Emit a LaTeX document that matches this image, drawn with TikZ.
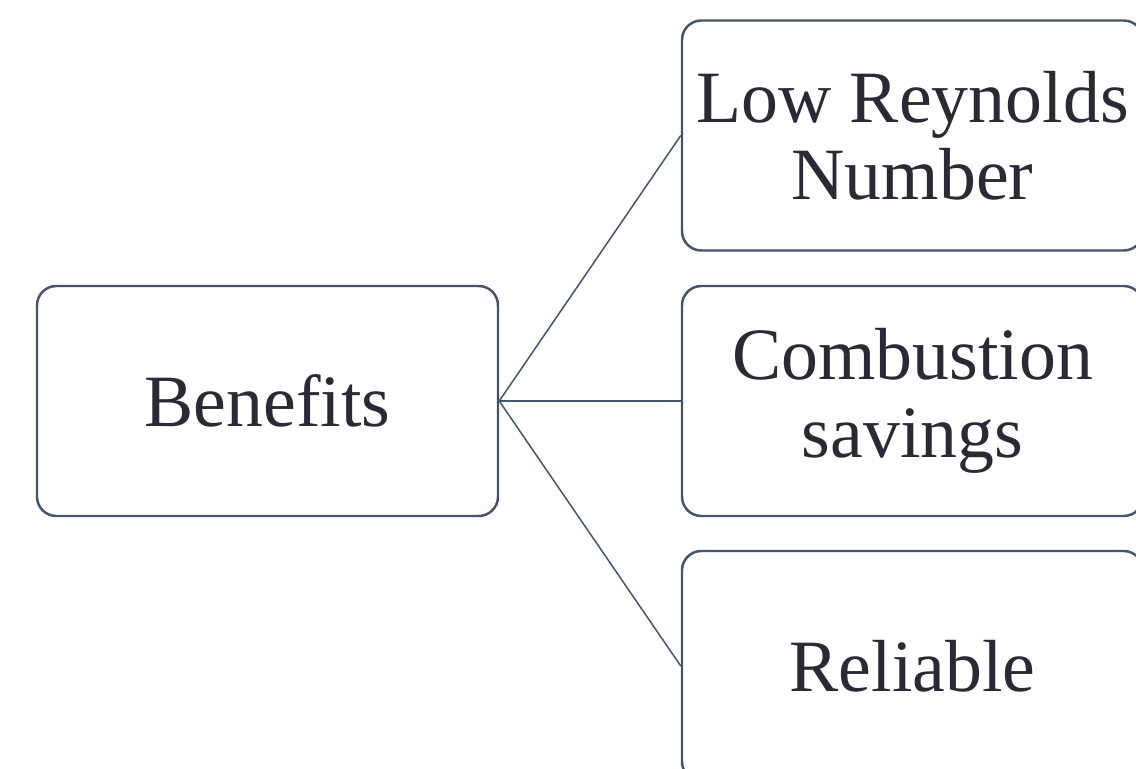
\documentclass[tikz,border=0pt]{standalone}
\usepackage{fontspec}
\setmainfont{Liberation Serif}
\definecolor{edgec}{HTML}{44546A}
\definecolor{textc}{HTML}{2A2A35}
\begin{document}
\begin{tikzpicture}[x=0.02cm,y=-0.02cm,
  boxstyle/.style={draw=edgec, line width=1.4pt, rounded corners=11pt, fill=white,
    minimum width=461*0.02cm, minimum height=230*0.02cm, inner sep=0pt,
    align=center, text=textc, font=\fontsize{42}{44}\selectfont},
  linkstyle/.style={draw=edgec, line width=0.85pt}]
\clip (0,0) rectangle (1136,768);
\fill[white] (0,0) rectangle (1136,768);
\node[boxstyle] (ben) at (267.5,401) {Benefits};
\node[boxstyle] (low) at (912.5,135.5) {Low Reynolds\\Number};
\node[boxstyle] (comb) at (912.5,401) {Combustion\\savings};
\node[boxstyle] (rel) at (912.5,666) {Reliable};
\draw[linkstyle] (ben.east) -- (low.west);
\draw[linkstyle] (ben.east) -- (comb.west);
\draw[linkstyle] (ben.east) -- (rel.west);
\end{tikzpicture}
\end{document}
